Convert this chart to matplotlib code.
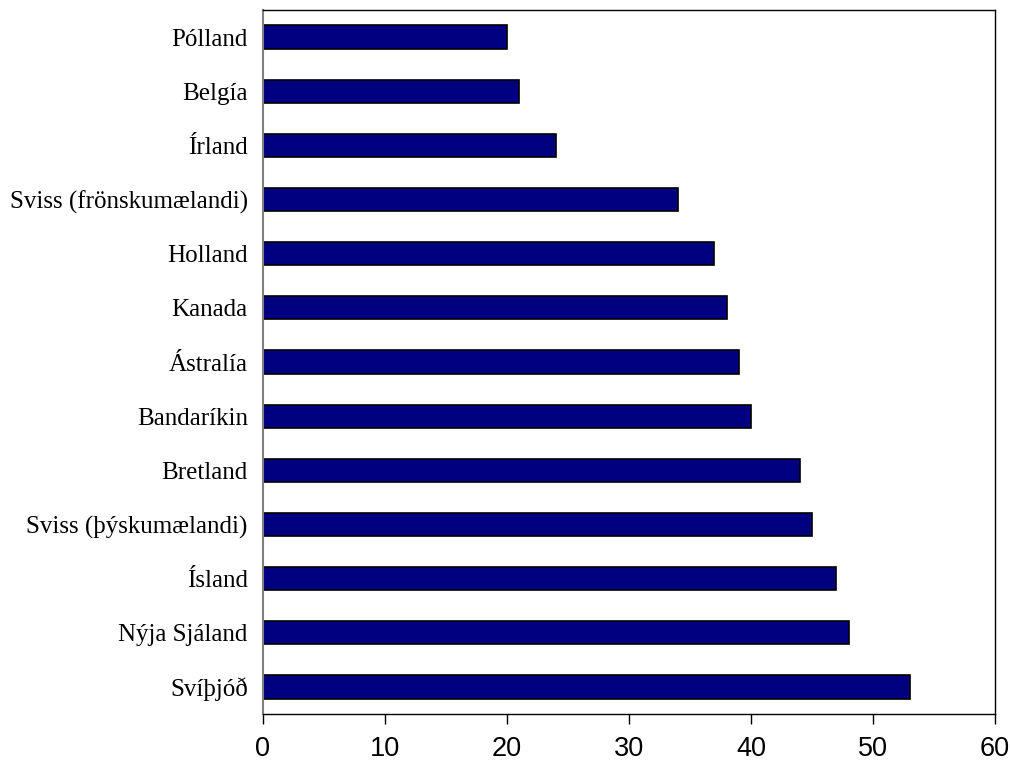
import matplotlib
matplotlib.use("Agg")
import matplotlib.pyplot as plt

countries = [
    "Pólland", "Belgía", "Írland", "Sviss (frönskumælandi)", "Holland",
    "Kanada", "Ástralía", "Bandaríkin", "Bretland", "Sviss (þýskumælandi)",
    "Ísland", "Nýja Sjáland", "Svíþjóð",
]
values = [20, 21, 24, 34, 37, 38, 39, 40, 44, 45, 47, 48, 53]
x_ticks = [0, 10, 20, 30, 40, 50, 60]

fig = plt.figure(figsize=(10.1, 7.67), dpi=100)
ax = fig.add_axes([263 / 1010, 1 - 714 / 767, (995 - 263) / 1010, (714 - 10) / 767])

ypos = list(range(len(countries)))
ax.barh(ypos, values, height=0.43, color="#000080", edgecolor="black", linewidth=1.2)

ax.set_xlim(0, 60)
ax.set_ylim(len(countries) - 0.5, -0.5)
ax.set_xticks(x_ticks)
ax.set_xticklabels([str(t) for t in x_ticks], fontfamily="Liberation Sans", fontsize=19.5)
ax.set_yticks(ypos)
ax.set_yticklabels(countries, fontfamily="Liberation Serif", fontsize=18)

ax.tick_params(axis="y", length=0, pad=11)
ax.tick_params(axis="x", length=7, width=1, direction="out", pad=9)

for side in ("top", "right", "bottom"):
    ax.spines[side].set_color("black")
    ax.spines[side].set_linewidth(1)
ax.spines["left"].set_color("#808080")
ax.spines["left"].set_linewidth(1.5)

fig.savefig("out.png", dpi=100)
